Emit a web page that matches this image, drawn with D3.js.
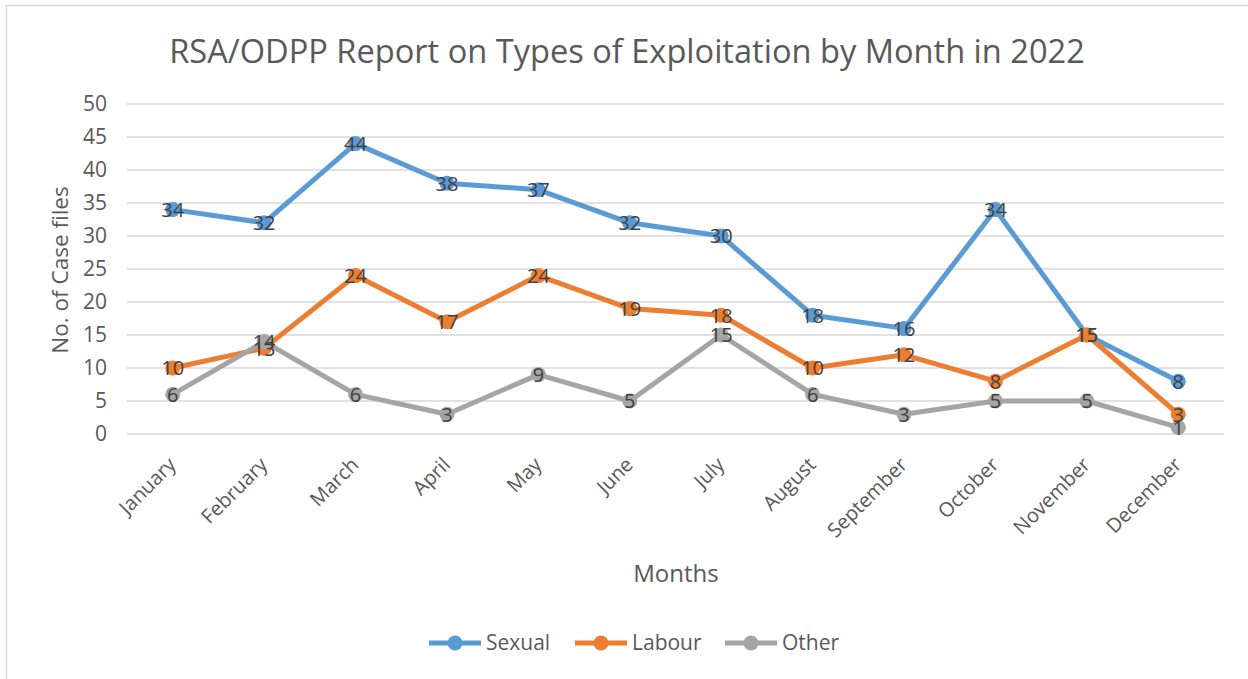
<!DOCTYPE html>
<html><head><meta charset="utf-8">
<script src="https://cdn.jsdelivr.net/npm/d3@7"></script>
<style>body{margin:0;background:#fff}svg{display:block}text{font-family:"Open Sans",sans-serif}</style>
</head><body><svg id="c" width="1248" height="679"></svg>
<script>
const months = ["January","February","March","April","May","June","July","August","September","October","November","December"];
const sexual = [34,32,44,38,37,32,30,18,16,34,15,8];
const labour = [10,13,24,17,24,19,18,10,12,8,15,3];
const other = [6,14,6,3,9,5,15,6,3,5,5,1];
const seriesNames = ["Sexual","Labour","Other"];
const seriesColors = ["#5b9bd5","#ed7d31","#a5a5a5"];
const yTicks = [0,5,10,15,20,25,30,35,40,45,50];
const title = "RSA/ODPP Report on Types of Exploitation by Month in 2022";

const svg = d3.select("#c");
svg.append("rect").attr("x",6.5).attr("y",5.5).attr("width",1260).attr("height",700)
  .attr("fill","#fff").attr("stroke","#d9d9d9").attr("stroke-width",1.5);

const pL=127, pR=1224, pT=104, pB=434;
const x = d3.scalePoint().domain(months).range([pL,pR]).padding(0.5);
const y = d3.scaleLinear().domain([0,50]).range([pB,pT]);

// gridlines
svg.append("g").selectAll("line").data(yTicks).join("line")
  .attr("x1",pL).attr("x2",pR).attr("y1",d=>y(d)).attr("y2",d=>y(d))
  .attr("stroke","#d9d9d9").attr("stroke-width",1.5);

// y axis
const ya = svg.append("g").attr("transform",`translate(${pL},0)`)
  .call(d3.axisLeft(y).tickValues(yTicks).tickSize(0).tickPadding(20));
ya.select(".domain").remove();
ya.selectAll("text").attr("font-family","Open Sans").attr("font-size",21).attr("fill","#595959");

// x axis labels
const xa = svg.append("g").attr("transform",`translate(0,${pB})`)
  .call(d3.axisBottom(x).tickSize(0).tickPadding(0));
xa.select(".domain").remove();
xa.selectAll("text").attr("font-family","Open Sans").attr("font-size",20).attr("fill","#595959")
  .attr("text-anchor","end").attr("dy",0)
  .attr("transform","translate(4,32) rotate(-45)");

// titles
svg.append("text").attr("x",627).attr("y",63).attr("text-anchor","middle")
  .attr("font-size",32.6).attr("fill","#595959").text(title);
svg.append("text").attr("transform","translate(68,270) rotate(-90)").attr("text-anchor","middle")
  .attr("font-size",22.5).attr("fill","#595959").text("No. of Case files");
svg.append("text").attr("x",676).attr("y",582).attr("text-anchor","middle")
  .attr("font-size",24).attr("fill","#595959").text("Months");

const data = [sexual,labour,other];
const line = d3.line().x((d,i)=>x(months[i])).y(d=>y(d));
data.forEach((s,k)=>{
  const g = svg.append("g");
  g.append("path").datum(s).attr("d",line).attr("fill","none")
    .attr("stroke",seriesColors[k]).attr("stroke-width",5).attr("stroke-linejoin","round");
  g.selectAll("circle").data(s).join("circle")
    .attr("cx",(d,i)=>x(months[i])).attr("cy",d=>y(d)).attr("r",7.5).attr("fill",seriesColors[k]);
});
data.forEach((s,k)=>{
  svg.append("g").selectAll("text").data(s).join("text")
    .attr("x",(d,i)=>x(months[i])).attr("y",d=>y(d)).attr("dy","0.37em")
    .attr("text-anchor","middle").attr("font-size",20).attr("fill","#404040").text(d=>d);
});

// legend
const legX = [429,575,725];
seriesNames.forEach((n,k)=>{
  const g = svg.append("g").attr("transform",`translate(${legX[k]},643)`);
  g.append("line").attr("x1",0).attr("x2",52).attr("stroke",seriesColors[k]).attr("stroke-width",5);
  g.append("circle").attr("cx",26).attr("r",7.5).attr("fill",seriesColors[k]);
  g.append("text").attr("x",57).attr("dy","0.35em").attr("font-size",21).attr("fill","#595959").text(n);
});
</script></body></html>
